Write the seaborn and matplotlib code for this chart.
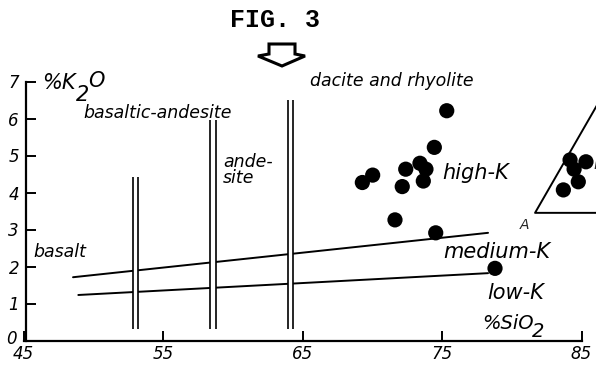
import matplotlib
matplotlib.use("Agg")
import matplotlib.pyplot as plt
from matplotlib.patches import Polygon
from matplotlib.transforms import offset_copy
import pandas as pd
import seaborn as sns

# --- data -----------------------------------------------------------------
# volcanic samples (SiO2 wt%, K2O wt%)
sample_sio2 = [75.34, 74.45, 73.42, 73.85, 72.40, 70.03, 69.29, 73.66, 72.15,
               71.63, 74.55, 78.80]
sample_k2o = [6.21, 5.22, 4.79, 4.63, 4.63, 4.47, 4.27, 4.31, 4.16,
              3.26, 2.91, 1.95]

# samples plotted in the inset triangle
inset_x = [84.18, 84.47, 84.77, 83.70, 85.32]
inset_y = [4.88, 4.63, 4.29, 4.07, 4.83]

# K-series boundaries (start / end points)
hik_x = [48.55, 78.30]
hik_y = [1.71, 2.91]
lowk_x = [48.93, 78.30]
lowk_y = [1.23, 1.82]

# rock-type divisions: (x left, x right, top)
div_left = [52.87, 58.37, 63.98]
div_right = [53.19, 58.78, 64.34]
div_top = [4.41, 5.95, 6.49]
div_bottom = 0.3

x_ticks = [45, 55, 65, 75, 85]
y_ticks = [0, 1, 2, 3, 4, 5, 6, 7]

# --- figure ---------------------------------------------------------------
sns.set_theme(style="ticks")
plt.rcParams["font.family"] = ["DejaVu Sans"]

W, H = 596, 376
fig = plt.figure(figsize=(W / 100, H / 100), dpi=100)
ax = fig.add_axes([23.5 / W, (H - 340.5) / H, 558 / W, 259 / H])

# boundaries
bounds = pd.DataFrame({
    "SiO2": hik_x + lowk_x,
    "K2O": hik_y + lowk_y,
    "line": ["hi"] * 2 + ["lo"] * 2,
})
sns.lineplot(data=bounds, x="SiO2", y="K2O", units="line", estimator=None,
             sort=False, color="black", lw=1.4, ax=ax, zorder=2, legend=False)

# double-line dividers
for xl, xr, top in zip(div_left, div_right, div_top):
    ax.fill_betweenx([div_bottom, top], xl, xr, color="white", zorder=3, lw=0)
    ax.vlines([xl, xr], div_bottom, top, color="black", lw=1.2, zorder=4)

# samples
pts = pd.DataFrame({"SiO2": sample_sio2 + inset_x, "K2O": sample_k2o + inset_y})
sns.scatterplot(data=pts, x="SiO2", y="K2O", color="black", s=120,
                edgecolor="none", ax=ax, zorder=5, clip_on=False)

ax.set_xlim(45, 85)
ax.set_ylim(0, 7)

# inset triangle (runs off the right edge)
tri_vx, tri_vy = 81.67, 3.45
ax.plot([87.2, tri_vx, 88.0], [tri_vy + 0.655 * (87.2 - tri_vx), tri_vy, tri_vy],
        color="black", lw=1.4, clip_on=False, zorder=3)
ax.text(80.59, 3.12, "A", fontsize=10, style="italic", ha="left", va="center")
ax.text(85.85, 4.78, "it", fontsize=12, style="italic", ha="left", va="center")

# axes styling
ax.set_xlabel("")
ax.set_ylabel("")
ax.set_xticks(x_ticks)
ax.set_yticks(y_ticks)
ax.set_xticklabels([str(v) for v in x_ticks])
ax.set_yticklabels([str(v) for v in y_ticks])
for s in ["top", "right"]:
    ax.spines[s].set_visible(False)
for s in ["left", "bottom"]:
    ax.spines[s].set_color("black")
    ax.spines[s].set_linewidth(1.6)
ax.spines["left"].set_position(("data", 45.18))
ax.tick_params(axis="y", which="major", direction="in", length=7, width=1.4,
               pad=5, color="black", labelcolor="black", labelsize=12, left=True)
ax.tick_params(axis="x", which="major", direction="in", length=7, width=1.4,
               pad=3, color="black", labelcolor="black", labelsize=12, bottom=True)
for t in ax.get_xticklabels() + ax.get_yticklabels():
    t.set_fontstyle("italic")
# lift the "0" a little so it clears the "45" below it
ax.get_yticklabels()[0].set_transform(
    offset_copy(ax.get_yticklabels()[0].get_transform(), fig=fig, x=-2, y=4,
                units="dots"))

# labels
lab = dict(style="italic", color="black", ha="left", va="center")
ax.text(45.68, 2.39, "basalt", fontsize=12.5, **lab)
ax.text(49.27, 6.15, "basaltic-andesite", fontsize=12.5, **lab)
ax.text(59.30, 4.62, "ande-\nsite", fontsize=12.5, linespacing=0.85, **lab)
ax.text(65.54, 7.02, "dacite and rhyolite", fontsize=12.5, **lab)
ax.text(75.00, 4.53, "high-K", fontsize=15, **lab)
ax.text(75.07, 2.39, "medium-K", fontsize=15, **lab)
ax.text(78.23, 1.28, "low-K", fontsize=15, **lab)
ax.text(77.87, 0.46, "%SiO", fontsize=14, **lab)
ax.text(81.45, 0.24, "2", fontsize=14, **lab)
ax.text(46.33, 6.96, "%K", fontsize=15, **lab)
ax.text(48.75, 6.63, "2", fontsize=15, **lab)
ax.text(49.62, 7.01, "O", fontsize=15, **lab)

# heading and arrow
fig.text(275 / W, 1 - 20 / H, "FIG. 3", fontsize=18, fontweight="bold",
         family="Liberation Mono", color="black", ha="center", va="center")
arrow_px = [(269, 44), (295, 44), (295, 54), (305, 56), (282, 66), (258, 56), (269, 54)]
fig.patches.append(Polygon([(x / W, 1 - y / H) for x, y in arrow_px], closed=True,
                           facecolor="white", edgecolor="black", lw=2.2,
                           transform=fig.transFigure, figure=fig))

fig.savefig("out.png", dpi=100)
